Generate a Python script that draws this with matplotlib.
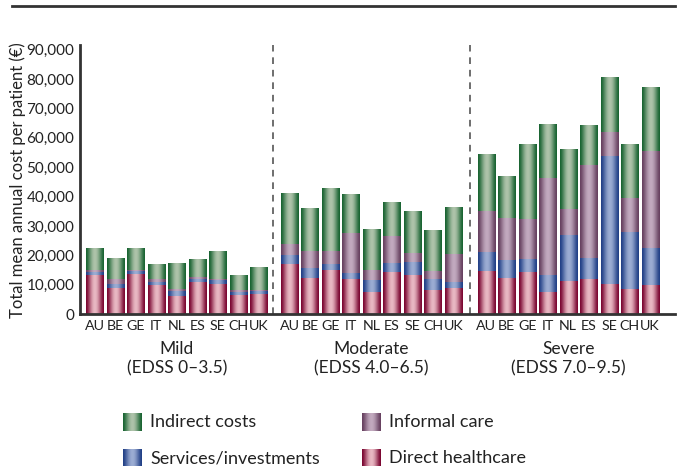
import matplotlib.pyplot as plt
import matplotlib.transforms as mtransforms
import numpy as np

plt.rcParams['font.family'] = ['Lato', 'DejaVu Sans']

countries = ['AU', 'BE', 'GE', 'IT', 'NL', 'ES', 'SE', 'CH', 'UK']
groups = ['Mild\n(EDSS 0\u20133.5)', 'Moderate\n(EDSS 4.0\u20136.5)', 'Severe\n(EDSS 7.0\u20139.5)']

# cost components per severity group, euro per patient and year
direct = [
    [13200, 9000, 13800, 9800, 6100, 10900, 10400, 6400, 6700],
    [17200, 12200, 15000, 11900, 7500, 14300, 13200, 8200, 8800],
    [14600, 12250, 14300, 7500, 11200, 11900, 10200, 8500, 9900],
]
services = [
    [1100, 1200, 1000, 1100, 1700, 1000, 1200, 1100, 1000],
    [2900, 3400, 2000, 2000, 4100, 3000, 4500, 3700, 2100],
    [6500, 6150, 4400, 5800, 15700, 7100, 43500, 19400, 12500],
]
informal = [
    [700, 1600, 200, 1200, 600, 600, 200, 600, 600],
    [3700, 5800, 4400, 13700, 3400, 9200, 3000, 2700, 9500],
    [13900, 14250, 13600, 33000, 8800, 31600, 8200, 11600, 33000],
]
indirect = [
    [7300, 7100, 7300, 4800, 8800, 5800, 9200, 5100, 7600],
    [17200, 14600, 21300, 13100, 13800, 11500, 14200, 13900, 15900],
    [19100, 14250, 25500, 18300, 20100, 13300, 18400, 18300, 21500],
]

series = [direct, services, informal, indirect]
labels = ['Direct healthcare', 'Services/investments', 'Informal care', 'Indirect costs']
# (edge colour, highlight colour) for the cylinder shading
shades = [
    ('#7a0530', '#e9b8c3'),
    ('#213f86', '#9cadd3'),
    ('#66405f', '#c2aabf'),
    ('#186331', '#aec3aa'),
]

group_start = [0, 9.5, 19.1]
width = 0.85


def gradient(dark, light, n=64):
    u = np.linspace(0, 1, n)
    f = np.sin(np.pi * u) ** 1.5
    d = np.array(plt.matplotlib.colors.to_rgb(dark))
    l = np.array(plt.matplotlib.colors.to_rgb(light))
    return (d[None, :] + (l - d)[None, :] * f[:, None])[None, :, :]


fig = plt.figure(figsize=(6.83, 4.66), dpi=100)
ax = fig.add_axes([0.117, 0.326, 0.871, 0.577])

xs, xl = [], []
for g in range(3):
    for i in range(len(countries)):
        x = group_start[g] + i
        xs.append(x)
        xl.append(countries[i])
        bottom = 0
        for s, (dark, light) in zip(series, shades):
            v = s[g][i]
            ax.imshow(gradient(dark, light), extent=(x - width / 2, x + width / 2, bottom, bottom + v),
                      aspect='auto', interpolation='bilinear', zorder=2)
            bottom += v

for xd in [8.7, 18.33]:
    ax.plot([xd, xd], [0, 91500], color='#555555', lw=1.2, ls=(0, (4, 3.5)), zorder=1, clip_on=False)

ax.set_xlim(-0.73, 28.3)
ax.set_ylim(0, 91500)
ax.set_xticks(xs)
ax.set_xticklabels(xl, fontsize=10.3, color='#222222')
ax.set_yticks(np.arange(0, 90001, 10000))
ax.set_yticklabels(['{:,}'.format(v) for v in range(0, 90001, 10000)], fontsize=11, color='#222222')
ax.tick_params(length=0, pad=4)
ax.spines[['top', 'right']].set_visible(False)
ax.spines[['left', 'bottom']].set_linewidth(2)
ax.spines[['left', 'bottom']].set_color('#333333')
ax.set_ylabel('Total mean annual cost per patient (\u20ac)', fontsize=12, color='#222222', va='center')
ax.yaxis.set_label_coords(-0.104, 0.5)

trans = mtransforms.blended_transform_factory(ax.transData, ax.transAxes)
for g in range(3):
    cx = group_start[g] + 4
    ax.text(cx, -0.165, groups[g], transform=trans, ha='center', va='center',
            fontsize=12.5, color='#222222', linespacing=1.25)

# header rule
fig.add_artist(plt.Line2D([12 / 683, 675 / 683], [1 - 6 / 466, 1 - 6 / 466],
                          color='#333333', lw=2))

# legend with shaded swatches
legend_items = [(3, 122.7, 413), (2, 361.7, 413), (1, 122.7, 449), (0, 361.7, 449)]
for k, px, py in legend_items:
    sw = fig.add_axes([px / 683, 1 - (py + 18.5) / 466, 19 / 683, 18.5 / 466])
    sw.imshow(gradient(*shades[k]), aspect='auto', interpolation='bilinear')
    sw.axis('off')
    fig.text((px + 27.5) / 683, 1 - (py + 9) / 466, labels[k], ha='left', va='center',
             fontsize=13, color='#222222')

fig.savefig('out.png', dpi=100)
